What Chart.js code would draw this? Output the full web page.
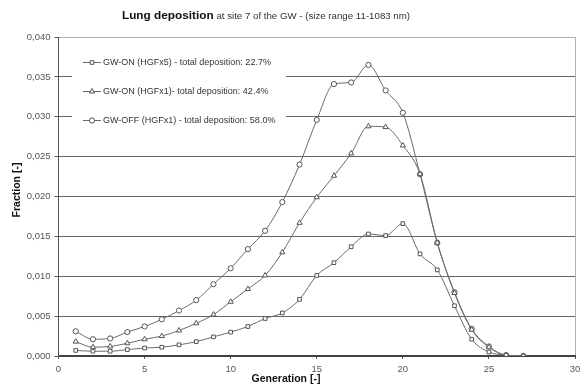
<!DOCTYPE html>
<html>
<head>
<meta charset="utf-8">
<script src="https://cdn.jsdelivr.net/npm/chart.js@4/dist/chart.umd.min.js"></script>
<style>
  body { margin: 0; background: #fff; }
  #wrap { width: 581px; height: 385px; }
</style>
</head>
<body>
<div id="wrap"><canvas id="lungChart"></canvas></div>
<script>
// generations 1..27
var generations = [1,2,3,4,5,6,7,8,9,10,11,12,13,14,15,16,17,18,19,20,21,22,23,24,25,26,27];

var gwOnHgf5 = [0.0007,0.0006,0.0006,0.0008,0.0010,0.0011,0.0014,0.0018,0.0024,0.0030,0.0037,0.0047,0.0054,0.0071,0.0101,
                0.0117,0.0137,0.0153,0.0151,0.0166,0.0128,0.0108,0.0063,0.0021,0.0005,0.0001,0.0000];
var gwOnHgf1 = [0.0018,0.0011,0.0012,0.0016,0.0021,0.0025,0.0032,0.0041,0.0052,0.0068,0.0084,0.0101,0.0130,0.0167,0.0199,
                0.0226,0.0254,0.0288,0.0287,0.0264,0.0228,0.0142,0.0079,0.0033,0.0011,0.0001,0.0000];
var gwOffHgf1 = [0.0031,0.0021,0.0022,0.0030,0.0037,0.0046,0.0057,0.0070,0.0090,0.0110,0.0134,0.0157,0.0193,0.0240,0.0296,
                 0.0341,0.0343,0.0365,0.0333,0.0305,0.0228,0.0142,0.0080,0.0034,0.0012,0.0001,0.0000];

var seriesNames = [
    "GW-ON (HGFx5) - total deposition: 22.7%",
    "GW-ON (HGFx1)- total deposition: 42.4%",
    "GW-OFF (HGFx1) - total deposition: 58.0%"
];
var seriesMarkers = ["rect", "triangle", "circle"];

var xTicks = [0, 5, 10, 15, 20, 25, 30];
var yMax = 0.04;

var FONT = "'Liberation Sans', Arial, sans-serif";

function toPoints(values) {
    return values.map(function(v, i) { return { x: generations[i], y: v }; });
}

function makeDataset(label, values, marker) {
    return {
        label: label,
        data: toPoints(values),
        borderColor: "#6a6a6a",
        borderWidth: 1,
        pointStyle: marker,
        pointRadius: marker === "triangle" ? 3 : 2.6,
        pointBackgroundColor: "#fff",
        pointBorderColor: "#555",
        pointBorderWidth: 1,
        cubicInterpolationMode: "monotone",
        fill: false
    };
}

// title, axis titles and the boxed legend
var decorations = {
    id: "decorations",
    beforeDatasetsDraw: function(chart) {
        var ctx = chart.ctx;
        ctx.save();
        // legend box covers the grid
        ctx.fillStyle = "#fff";
        ctx.fillRect(72, 45, 214, 86);
        var rows = [62, 91, 120];
        chart.data.datasets.forEach(function(ds, i) {
            var y = rows[i];
            ctx.strokeStyle = "#6a6a6a";
            ctx.lineWidth = 1;
            ctx.beginPath();
            ctx.moveTo(83, y + 0.5);
            ctx.lineTo(101, y + 0.5);
            ctx.stroke();
            ctx.fillStyle = "#fff";
            ctx.strokeStyle = "#555";
            Chart.helpers.drawPoint(ctx, {
                pointStyle: ds.pointStyle, radius: ds.pointRadius, borderWidth: 1
            }, 92, y + 0.5);
            ctx.fillStyle = "#333";
            ctx.font = "9px " + FONT;
            ctx.textBaseline = "middle";
            ctx.fillText(ds.label, 103, y + 1);
        });
        ctx.restore();
    },
    afterDraw: function(chart) {
        var ctx = chart.ctx;
        ctx.save();
        ctx.fillStyle = "#111";
        ctx.textBaseline = "middle";
        var main = "Lung deposition";
        var rest = " at site 7 of the GW - (size range 11-1083 nm)";
        ctx.font = "bold 11.8px " + FONT;
        var w1 = ctx.measureText(main).width;
        ctx.font = "9.7px " + FONT;
        var w2 = ctx.measureText(rest).width;
        var x0 = 266 - (w1 + w2) / 2;
        ctx.font = "bold 11.8px " + FONT;
        ctx.fillText(main, x0, 16);
        ctx.font = "9.7px " + FONT;
        ctx.fillStyle = "#333";
        ctx.fillText(rest, x0 + w1, 16.5);

        ctx.fillStyle = "#111";
        ctx.font = "bold 10.5px " + FONT;
        ctx.textAlign = "center";
        ctx.fillText("Generation [-]", 286, 379);
        ctx.translate(17, 190);
        ctx.rotate(-Math.PI / 2);
        ctx.fillText("Fraction [-]", 0, 0);
        ctx.restore();
    }
};

var ctx = document.getElementById("lungChart").getContext("2d");

var lungChart = new Chart(ctx, {
    type: "line",
    data: {
        datasets: [
            makeDataset(seriesNames[0], gwOnHgf5, seriesMarkers[0]),
            makeDataset(seriesNames[1], gwOnHgf1, seriesMarkers[1]),
            makeDataset(seriesNames[2], gwOffHgf1, seriesMarkers[2])
        ]
    },
    options: {
        responsive: true,
        maintainAspectRatio: false,
        animation: false,
        layout: { padding: { top: 37, right: 6, left: 0, bottom: 0 } },
        plugins: {
            legend: { display: false },
            title: { display: false },
            tooltip: { enabled: false }
        },
        scales: {
            x: {
                type: "linear",
                min: 0,
                max: 30,
                afterBuildTicks: function(scale) {
                    scale.ticks = xTicks.map(function(v) { return { value: v }; });
                },
                afterFit: function(scale) {
                    scale.height = 29;
                    scale.paddingRight = 0;
                    scale.paddingLeft = 0;
                },
                border: { color: "#444", width: 2 },
                grid: {
                    drawOnChartArea: true,
                    tickLength: 3,
                    color: function(c) { return c.tick && c.tick.value === 30 ? "#b0b0b0" : "rgba(0,0,0,0)"; },
                    tickColor: "#555"
                },
                ticks: {
                    color: "#555",
                    font: { family: FONT, size: 9.5 },
                    padding: 5,
                    maxRotation: 0
                }
            },
            y: {
                min: 0,
                max: yMax,
                afterFit: function(scale) {
                    scale.width = 58.5;
                    scale.paddingTop = 0;
                    scale.paddingBottom = 0;
                },
                border: { color: "#555", width: 1 },
                grid: {
                    tickLength: 4,
                    color: function(c) { return c.tick && c.tick.value >= yMax - 1e-9 ? "#b0b0b0" : "#666"; },
                    tickColor: "#555"
                },
                ticks: {
                    stepSize: 0.005,
                    color: "#555",
                    padding: 4,
                    font: { family: FONT, size: 9.5 },
                    callback: function(v) { return v.toFixed(3).replace(".", ","); }
                }
            }
        }
    },
    plugins: [decorations]
});
</script>
</body>
</html>
